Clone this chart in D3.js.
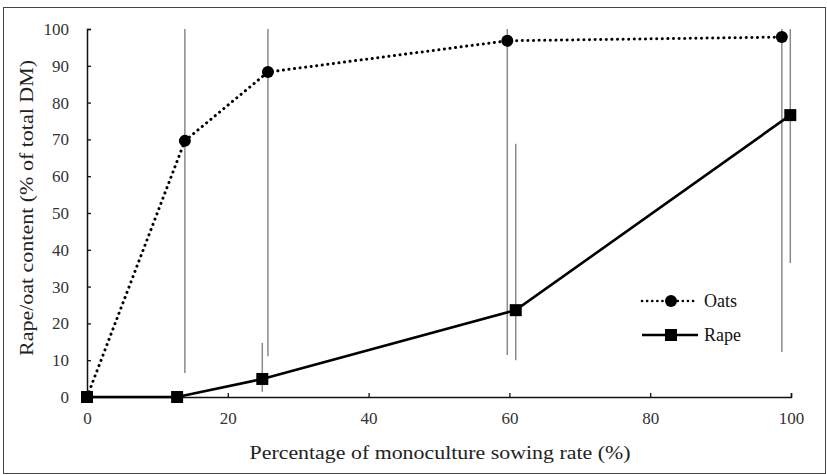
<!DOCTYPE html>
<html>
<head>
<meta charset="utf-8">
<script src="https://cdn.jsdelivr.net/npm/d3@7/dist/d3.min.js"></script>
<style>
  body { margin: 0; background: #fff; }
</style>
</head>
<body>
<div id="chart-area"></div>
<script>
// values
const OATS_X = [0, 13.9, 25.7, 59.7, 98.7];
const OATS_Y = [0, 69.6, 88.3, 96.8, 97.8];
const OATS_LO = [0, 6.5, 11.1, 11.4, 12.2];
const OATS_HI = [0, 100, 100, 100, 100];

const RAPE_X = [0, 12.8, 24.9, 60.9, 99.9];
const RAPE_Y = [0, 0, 4.9, 23.6, 76.6];
const RAPE_LO = [0, 0, 1.4, 10, 36.4];
const RAPE_HI = [0, 0.8, 14.7, 68.8, 100];

const X_TICKS = [0, 20, 40, 60, 80, 100];
const Y_TICKS = [0, 10, 20, 30, 40, 50, 60, 70, 80, 90, 100];

const SERIES = [
  { name: 'Oats', xs: OATS_X, ys: OATS_Y, lo: OATS_LO, hi: OATS_HI, dash: true, marker: 'circle' },
  { name: 'Rape', xs: RAPE_X, ys: RAPE_Y, lo: RAPE_LO, hi: RAPE_HI, dash: false, marker: 'square' },
];

const FONT = '"Times New Roman", "Liberation Serif", "DejaVu Serif", serif';

const W = 827, H = 475;
const margin = { top: 29, right: 36, bottom: 78, left: 87 };
const width = W - margin.left - margin.right;
const height = H - margin.top - margin.bottom;

const x = d3.scaleLinear().domain([0, 100]).range([0, width]);
const y = d3.scaleLinear().domain([0, 100]).range([height, 0]);

const svg = d3.select('#chart-area')
  .append('svg')
  .attr('width', W)
  .attr('height', H)
  .attr('font-family', FONT);

// outer frame
svg.append('rect')
  .attr('x', 3.5).attr('y', 7.5)
  .attr('width', 822).attr('height', 466)
  .attr('fill', 'none')
  .attr('stroke', '#444')
  .attr('stroke-width', 1);

const chart = svg.append('g')
  .attr('transform', `translate(${margin.left},${margin.top})`);

// axes, ticks pointing inward
const xAxis = d3.axisBottom(x).tickValues(X_TICKS).tickSize(-4).tickSizeOuter(-4).tickPadding(15);
const yAxis = d3.axisLeft(y).tickValues(Y_TICKS).tickSize(-4).tickSizeOuter(-4).tickPadding(18);

const gx = chart.append('g')
  .attr('transform', `translate(0,${height})`)
  .call(xAxis);
const gy = chart.append('g').call(yAxis);

[gx, gy].forEach((g) => {
  g.attr('font-family', FONT).attr('font-size', 17);
  g.select('.domain').attr('stroke', '#111').attr('stroke-width', 1.5);
  g.selectAll('.tick line').attr('stroke', '#111').attr('stroke-width', 1.3);
  g.selectAll('.tick text').attr('fill', '#333');
});

// error bars
SERIES.forEach((s) => {
  chart.append('g')
    .selectAll('line')
    .data(s.xs.map((xv, i) => ({ x: xv, lo: s.lo[i], hi: s.hi[i] })).filter((d) => d.hi > d.lo))
    .join('line')
    .attr('x1', (d) => x(d.x))
    .attr('x2', (d) => x(d.x))
    .attr('y1', (d) => y(d.lo))
    .attr('y2', (d) => y(d.hi))
    .attr('stroke', '#8a8a8a')
    .attr('stroke-width', 1.5);
});

const line = d3.line()
  .x((d) => x(d[0]))
  .y((d) => y(d[1]));

const drawMarker = (g, type, cx, cy) => {
  if (type === 'circle') {
    g.append('circle').attr('cx', cx).attr('cy', cy).attr('r', 6).attr('fill', '#000');
  } else {
    g.append('rect').attr('x', cx - 6).attr('y', cy - 6).attr('width', 12).attr('height', 12).attr('fill', '#000');
  }
};

SERIES.forEach((s) => {
  const pts = s.xs.map((xv, i) => [xv, s.ys[i]]);
  chart.append('path')
    .datum(pts)
    .attr('d', line)
    .attr('fill', 'none')
    .attr('stroke', '#000')
    .attr('stroke-width', s.dash ? 3 : 2.6)
    .attr('stroke-linecap', s.dash ? 'round' : 'butt')
    .attr('stroke-dasharray', s.dash ? '0.1 5.5' : null);
  const mg = chart.append('g');
  pts.forEach((p) => drawMarker(mg, s.marker, x(p[0]), y(p[1])));
});

// legend
const legend = svg.append('g').attr('transform', 'translate(642,301)');
SERIES.forEach((s, i) => {
  const g = legend.append('g').attr('transform', `translate(0,${i * 34})`);
  g.append('line')
    .attr('x1', 0).attr('x2', 56)
    .attr('stroke', '#000')
    .attr('stroke-width', 2.6)
    .attr('stroke-linecap', s.dash ? 'round' : 'butt')
    .attr('stroke-dasharray', s.dash ? '0.1 5' : null);
  drawMarker(g, s.marker, 29, 0);
  g.append('text')
    .attr('x', 62).attr('y', 0)
    .attr('dy', '0.35em')
    .attr('font-size', 18)
    .attr('fill', '#111')
    .text(s.name);
});

// axis titles
svg.append('text')
  .attr('x', 440)
  .attr('y', 459)
  .attr('text-anchor', 'middle')
  .attr('font-size', 19)
  .attr('fill', '#222')
  .attr('textLength', 381)
  .attr('lengthAdjust', 'spacingAndGlyphs')
  .text('Percentage of monoculture sowing rate (%)');

svg.append('text')
  .attr('transform', 'translate(33,208) rotate(-90)')
  .attr('text-anchor', 'middle')
  .attr('font-size', 19)
  .attr('fill', '#222')
  .attr('textLength', 296)
  .attr('lengthAdjust', 'spacingAndGlyphs')
  .text('Rape/oat content (% of total DM)');
</script>
</body>
</html>
